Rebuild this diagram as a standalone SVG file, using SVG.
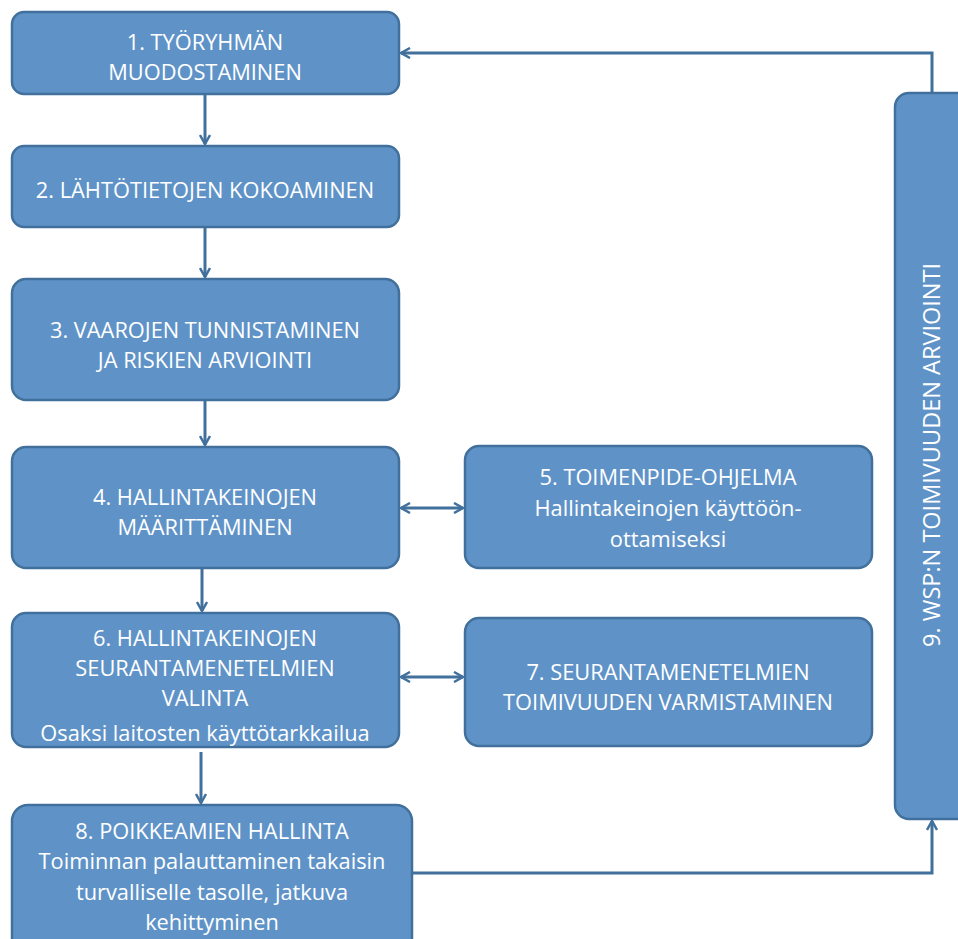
<svg xmlns="http://www.w3.org/2000/svg" width="958" height="939" viewBox="0 0 958 939">
<style>
.box{fill:#5f93c8;stroke:#41709c;stroke-width:2.5}
.t{fill:#ffffff;font-family:"Open Sans","Liberation Sans",sans-serif;font-size:21.8px;text-anchor:middle}
.c{fill:none;stroke:#41709c;stroke-width:3}
</style>
<defs>
<marker id="ah" viewBox="0 0 12 12" refX="10" refY="6" markerWidth="12" markerHeight="12" markerUnits="userSpaceOnUse" orient="auto-start-reverse">
<path d="M1,1 L10,6 L1,11" fill="none" stroke="#41709c" stroke-width="2.5"/>
</marker>
</defs>
<rect width="958" height="939" fill="#ffffff"/>
<g id="connectors">
<line class="c" x1="205" y1="94" x2="205" y2="144" marker-end="url(#ah)"/>
<line class="c" x1="205" y1="227" x2="205" y2="277" marker-end="url(#ah)"/>
<line class="c" x1="205" y1="400" x2="205" y2="445" marker-end="url(#ah)"/>
<line class="c" x1="202" y1="568" x2="202" y2="611" marker-end="url(#ah)"/>
<line class="c" x1="201" y1="752" x2="201" y2="803" marker-end="url(#ah)"/>
<line class="c" x1="401" y1="508" x2="463" y2="508" marker-start="url(#ah)" marker-end="url(#ah)"/>
<line class="c" x1="401" y1="677" x2="463" y2="677" marker-start="url(#ah)" marker-end="url(#ah)"/>
<polyline class="c" points="412,873 932,873 932,821" marker-end="url(#ah)"/>
<polyline class="c" points="932,93 932,53 401,53" marker-end="url(#ah)"/>
</g>
<g id="n1"><rect class="box" x="12" y="12" width="387" height="82" rx="12"/>
<text class="t" x="205" y="50">1. TYÖRYHMÄN</text><text class="t" x="205" y="80">MUODOSTAMINEN</text></g>
<g id="n2"><rect class="box" x="12" y="146" width="387" height="81" rx="12"/>
<text class="t" x="205" y="198">2. LÄHTÖTIETOJEN KOKOAMINEN</text></g>
<g id="n3"><rect class="box" x="12" y="279" width="387" height="121" rx="14"/>
<text class="t" x="205" y="338">3. VAAROJEN TUNNISTAMINEN</text><text class="t" x="205" y="368">JA RISKIEN ARVIOINTI</text></g>
<g id="n4"><rect class="box" x="12" y="447" width="387" height="121" rx="14"/>
<text class="t" x="205" y="505">4. HALLINTAKEINOJEN</text><text class="t" x="205" y="535">MÄÄRITTÄMINEN</text></g>
<g id="n5"><rect class="box" x="465" y="446" width="407" height="122" rx="14"/>
<text class="t" x="668" y="485">5. TOIMENPIDE-OHJELMA</text><text class="t" x="668" y="516">Hallintakeinojen käyttöön-</text><text class="t" x="668" y="547">ottamiseksi</text></g>
<g id="n6"><rect class="box" x="12" y="613" width="387" height="134" rx="14"/>
<text class="t" x="205" y="646">6. HALLINTAKEINOJEN</text><text class="t" x="205" y="676">SEURANTAMENETELMIEN</text><text class="t" x="205" y="706">VALINTA</text><text class="t" x="205" y="741">Osaksi laitosten käyttötarkkailua</text></g>
<g id="n7"><rect class="box" x="465" y="618" width="407" height="128" rx="14"/>
<text class="t" x="668" y="680">7. SEURANTAMENETELMIEN</text><text class="t" x="668" y="710">TOIMIVUUDEN VARMISTAMINEN</text></g>
<g id="n8"><rect class="box" x="12" y="805" width="400" height="150" rx="16"/>
<text class="t" x="212" y="839">8. POIKKEAMIEN HALLINTA</text><text class="t" x="212" y="869">Toiminnan palauttaminen takaisin</text><text class="t" x="212" y="900">turvalliselle tasolle, jatkuva</text><text class="t" x="212" y="930">kehittyminen</text></g>
<g id="n9"><rect class="box" x="895" y="93" width="90" height="726" rx="14"/>
<text class="t" style="font-size:23.5px" transform="translate(940,455) rotate(-90)">9. WSP:N TOIMIVUUDEN ARVIOINTI</text></g>
</svg>
